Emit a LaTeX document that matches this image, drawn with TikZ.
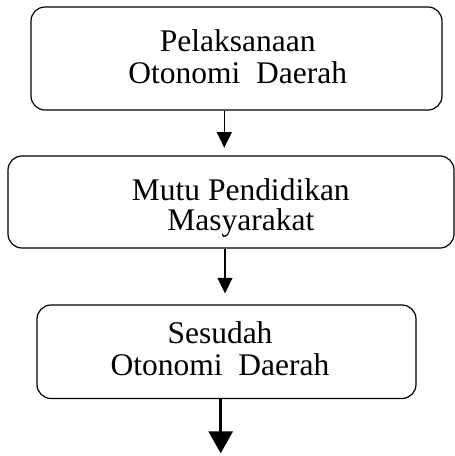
\documentclass[tikz,border=0pt]{standalone}
\usepackage{fontspec}
\setmainfont{Liberation Serif}
\usetikzlibrary{arrows.meta}

\begin{document}
\begin{tikzpicture}[x=1pt,y=-1pt,
  box/.style={draw,line width=1.2pt,rounded corners=14pt,inner sep=0pt},
  txt/.style={anchor=base,inner sep=0pt,font=\fontsize{31.5}{32}\selectfont},
  arr/.style={line width=1.3pt,-{Triangle[length=15.6pt,width=15pt]}}]
\useasboundingbox (0,0) rectangle (455,456);
\node[box,minimum width=411pt,minimum height=103pt] (otda) at (236.5,58.5) {};
\node[box,minimum width=446pt,minimum height=92pt] (mutu) at (231,202) {};
\node[box,minimum width=379pt,minimum height=93.5pt] (sesudah) at (226.5,351.75) {};
\node[txt] (otda1) at (237.7,51.7) {Pelaksanaan};
\node[txt] (otda2) at (237.7,83.3) {Otonomi\ \ Daerah};
\node[txt] (mutu1) at (240.8,200) {Mutu Pendidikan};
\node[txt] (mutu2) at (240.8,230.7) {Masyarakat};
\node[txt] (sesudah1) at (220,343) {Sesudah};
\node[txt] (sesudah2) at (220,375.7) {Otonomi\ \ Daerah};
\coordinate (k1) at (224.3,0);
\coordinate (k2) at (225,0);
\coordinate (akhir) at (220.7,453.3);
\draw[arr,shorten >=7.7pt] (otda.south -| k1) -- (mutu.north -| k1);
\draw[arr,shorten >=11pt] (mutu.south -| k2) -- (sesudah.north -| k2);
\draw[line width=3pt,-{Triangle[length=22pt,width=24pt]}] (sesudah.south -| akhir) -- (akhir);
\end{tikzpicture}
\end{document}
